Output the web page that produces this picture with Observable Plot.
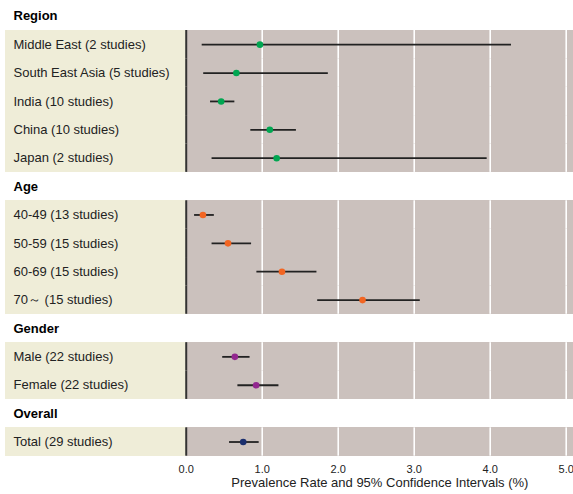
<!DOCTYPE html>
<html><head><meta charset="utf-8">
<script src="https://cdn.jsdelivr.net/npm/d3@7"></script>
<script src="https://cdn.jsdelivr.net/npm/@observablehq/plot@0.6"></script>
<style>body{margin:0;background:#fff}</style>
</head><body><div id="chart"></div>
<script>
const groups = ["Region", "Age", "Gender", "Overall"];
const groupColors = ["#00a651", "#f26522", "#92278f", "#1b2f6e"];
const labels = ["Middle East (2 studies)", "South East Asia (5 studies)", "India (10 studies)", "China (10 studies)", "Japan (2 studies)",
  "40-49 (13 studies)", "50-59 (15 studies)", "60-69 (15 studies)", "70～ (15 studies)",
  "Male (22 studies)", "Female (22 studies)", "Total (29 studies)"];
const groupIdx = [0, 0, 0, 0, 0, 1, 1, 1, 1, 2, 2, 3];
const est = [0.97, 0.66, 0.46, 1.10, 1.19, 0.22, 0.55, 1.26, 2.32, 0.64, 0.92, 0.75];
const lo  = [0.21, 0.23, 0.32, 0.85, 0.34, 0.11, 0.34, 0.93, 1.73, 0.48, 0.68, 0.57];
const hi  = [4.28, 1.87, 0.64, 1.45, 3.96, 0.37, 0.86, 1.72, 3.08, 0.84, 1.22, 0.96];
const ticks = [0, 1, 2, 3, 4, 5];
const gridTicks = [1, 2, 3, 4, 5];
const axisLabel = "Prevalence Rate and 95% Confidence Intervals (%)";

// layout
const xMin = -2.378, xMax = 5.096;

const rows = labels.map((label, i) => ({label, group: groups[groupIdx[i]], color: groupColors[groupIdx[i]], est: est[i], lo: lo[i], hi: hi[i]}));
const order = [];
groups.forEach(g => { order.push(g); rows.filter(r => r.group === g).forEach(r => order.push(r.label)); });
const gridRows = rows.flatMap(r => gridTicks.map(t => ({label: r.label, tick: t})));

const chart = Plot.plot({
  width: 573, height: 494,
  marginLeft: 5, marginRight: 0, marginTop: 1.6, marginBottom: 38.3,
  x: {domain: [xMin, xMax]},
  y: {domain: order, padding: 0, round: false, axis: null},
  style: {fontFamily: "'Liberation Sans', Arial, sans-serif", fontSize: "13px", background: "#fff", color: "#222"},
  marks: [
    Plot.barX(rows, {y: "label", x1: () => xMin, x2: () => 0, fill: "#efedd8", shapeRendering: "crispEdges"}),
    Plot.barX(rows, {y: "label", x1: () => 0, x2: () => xMax, fill: "#cbc1bd", shapeRendering: "crispEdges"}),
    Plot.tickX(gridRows, {x: "tick", y: "label", stroke: "white", strokeWidth: 1.6}),
    Plot.tickX(rows, {x: () => 0, y: "label", stroke: "#333", strokeWidth: 2}),
    Plot.ruleY(rows, {y: "label", x1: "lo", x2: "hi", stroke: "#222", strokeWidth: 1.8}),
    Plot.dot(rows, {x: "est", y: "label", fill: "color", r: 3.3}),
    Plot.text(rows, {y: "label", text: "label", frameAnchor: "left", dx: 8, textAnchor: "start", fill: "#222", fontSize: 13}),
    Plot.text(groups, {y: d => d, text: d => d, frameAnchor: "left", dx: 8, textAnchor: "start", fill: "#000", fontWeight: "bold", fontSize: 13}),
    Plot.axisX(ticks, {tickSize: 0, tickPadding: 9, tickFormat: d3.format(".1f"), fontSize: 11, label: null, fill: "#222"}),
    Plot.text([axisLabel], {x: () => xMax / 2, text: d => d, frameAnchor: "bottom", dy: 31, fontSize: 13, fill: "#222"})
  ]
});
document.getElementById("chart").appendChild(chart);
</script>
</body></html>
